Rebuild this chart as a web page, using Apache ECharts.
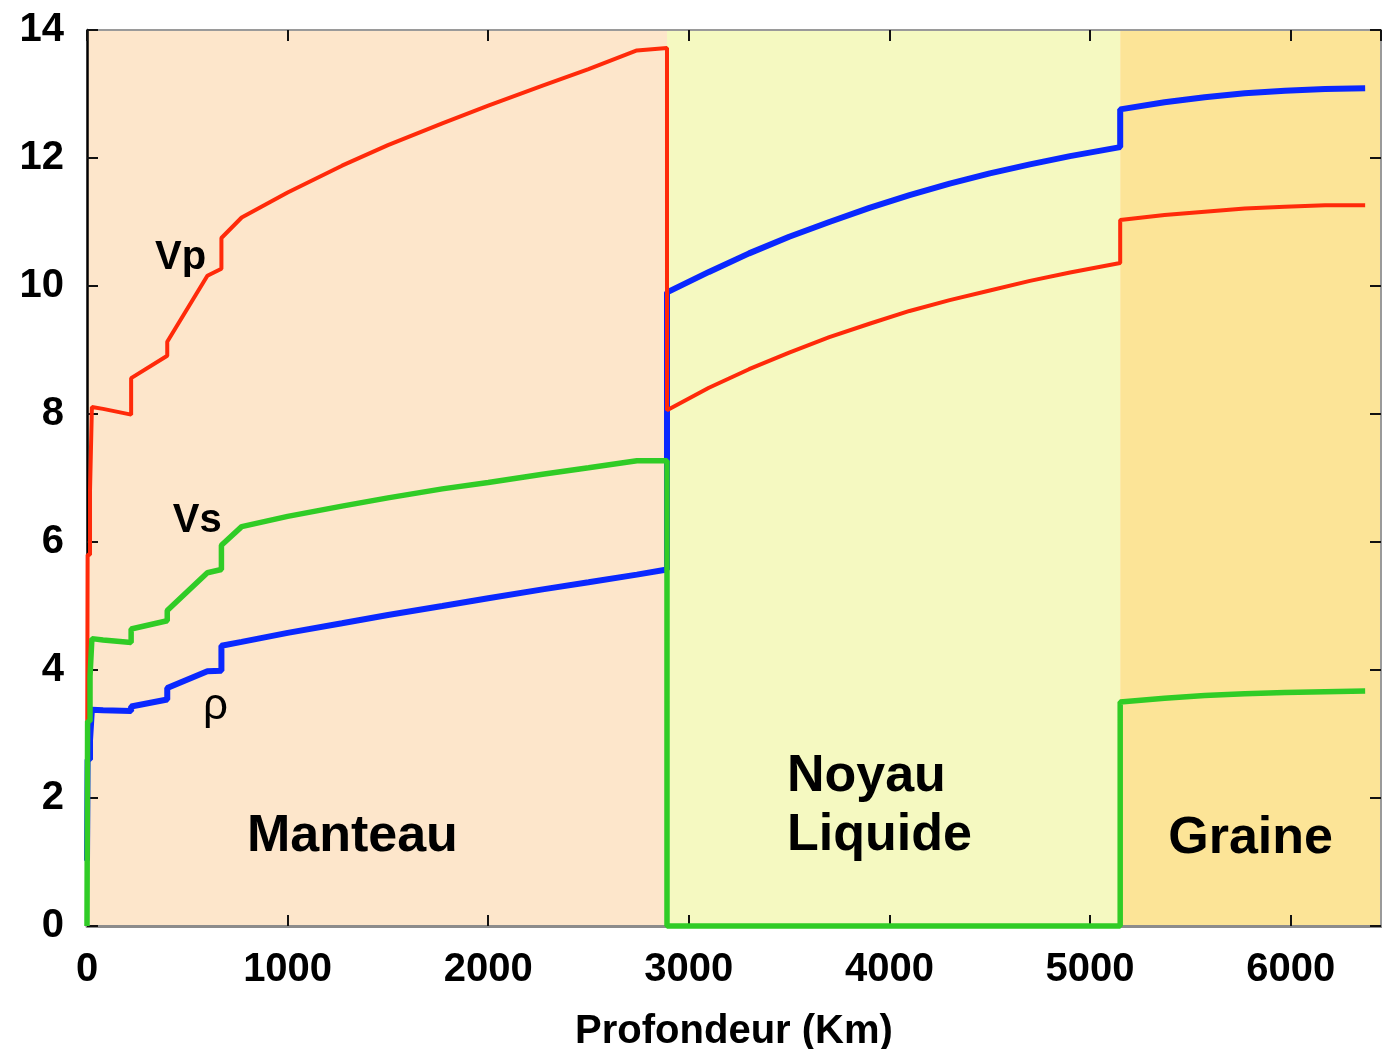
<!DOCTYPE html>
<html>
<head>
<meta charset="utf-8">
<script src="https://cdn.jsdelivr.net/npm/echarts@6/dist/echarts.min.js"></script>
<style>
  html, body { margin: 0; padding: 0; background: #ffffff; }
  #chart { width: 1382px; height: 1049px; }
</style>
</head>
<body>
<div id="chart"></div>
<script>
// Depth (km) of each sample; repeated depths mark the discontinuities.
const depthKm = [0, 3, 3, 15, 15, 24.4, 24.4, 80, 220, 220,
  400, 400, 600, 670, 670, 771, 1000, 1271, 1500, 1771,
  2000, 2271, 2500, 2741, 2891, 2891, 3100, 3300, 3500, 3700,
  3900, 4100, 4300, 4500, 4700, 4900, 5150, 5150, 5371, 5571,
  5771, 5971, 6171, 6371];

// P-wave velocity (km/s)
const vp = [1.45, 1.45, 5.8, 5.8, 6.8, 6.8, 8.11, 8.08, 7.99, 8.56,
  8.91, 9.13, 10.16, 10.27, 10.75, 11.07, 11.46, 11.88, 12.20, 12.54,
  12.82, 13.13, 13.39, 13.68, 13.72, 8.06, 8.41, 8.70, 8.96, 9.20,
  9.41, 9.61, 9.78, 9.93, 10.08, 10.21, 10.36, 11.03, 11.11, 11.16,
  11.21, 11.24, 11.26, 11.26];

// S-wave velocity (km/s)
const vs = [0, 0, 3.2, 3.2, 3.9, 3.9, 4.49, 4.47, 4.43, 4.64,
  4.77, 4.93, 5.52, 5.57, 5.95, 6.24, 6.40, 6.56, 6.69, 6.83,
  6.93, 7.06, 7.16, 7.27, 7.27, 0, 0, 0, 0, 0,
  0, 0, 0, 0, 0, 0, 0, 3.50, 3.56, 3.60,
  3.63, 3.65, 3.66, 3.67];

// Density (g/cm3)
const rho = [1.02, 1.02, 2.6, 2.6, 2.9, 2.9, 3.38, 3.37, 3.36, 3.43,
  3.54, 3.72, 3.98, 3.99, 4.38, 4.44, 4.58, 4.73, 4.86, 5.00,
  5.12, 5.26, 5.37, 5.49, 5.57, 9.90, 10.22, 10.51, 10.77, 11.00,
  11.22, 11.42, 11.60, 11.76, 11.90, 12.03, 12.17, 12.76, 12.87, 12.95,
  13.01, 13.05, 13.08, 13.09];

// Earth layers: boundaries (km) and names
const zoneEdges = [0, 2891, 5150, 6450];
const zoneNames = ['Manteau', 'Noyau\nLiquide', 'Graine'];
const zoneNameAt = [[1323, 1.40], [3489, 1.88], [5800, 1.37]];

// Curve names written next to each curve
const curveNames = ['Vp', 'Vs', 'ρ'];
const curveNameAt = [[339, 10.44], [428, 6.33], [578, 3.42]];

// Axis ticks
const depthTicks = { min: 0, max: 6450, interval: 1000 };
const valueTicks = { min: 0, max: 14, interval: 2 };
const xTitle = 'Profondeur (Km)';

const FONT = '"Liberation Sans", Arial, Helvetica, sans-serif';
const zoneColors = ['#fde6cb', '#f5f9c1', '#fce497'];
const zoneAlign = ['center', 'left', 'center'];

const pairs = vals => depthKm.map((d, i) => [d, vals[i]]);

const chart = echarts.init(document.getElementById('chart'), null, { renderer: 'canvas' });

const bands = zoneColors.map((c, i) => [
  { xAxis: zoneEdges[i], itemStyle: { color: c } },
  { xAxis: zoneEdges[i + 1] }
]);

const annotations = [];
curveNames.forEach((t, i) => annotations.push({
  value: [curveNameAt[i][0], curveNameAt[i][1], t],
  label: {
    align: 'left',
    fontSize: t === 'ρ' ? 44 : 40,
    fontWeight: t === 'ρ' ? 'normal' : 'bold'
  }
}));
zoneNames.forEach((t, i) => annotations.push({
  value: [zoneNameAt[i][0], zoneNameAt[i][1], t],
  label: { align: zoneAlign[i], fontSize: 52, fontWeight: 'bold', lineHeight: 59 }
}));

const axisBase = {
  type: 'value',
  splitLine: { show: false },
  axisTick: { show: true, inside: true, length: 11, lineStyle: { color: '#111', width: 2 } }
};

chart.setOption({
  animation: false,
  backgroundColor: '#ffffff',
  grid: {
    left: 87, right: 1, top: 30, bottom: 123,
    containLabel: false, outerBoundsMode: 'none'
  },
  xAxis: [
    Object.assign({}, axisBase, depthTicks, {
      position: 'bottom',
      name: xTitle,
      nameLocation: 'middle',
      nameGap: 86,
      nameTextStyle: { fontFamily: FONT, fontSize: 40, fontWeight: 'bold', color: '#000' },
      axisLine: { show: true, onZero: false, lineStyle: { color: '#8c8c8c', width: 3 } },
      axisLabel: {
        show: true, margin: 24, showMaxLabel: false,
        fontFamily: FONT, fontSize: 40, fontWeight: 'bold', color: '#000',
        formatter: v => String(v)
      }
    }),
    Object.assign({}, axisBase, depthTicks, {
      position: 'top',
      axisLine: { show: true, onZero: false, lineStyle: { color: '#9a9a9a', width: 2 } },
      axisLabel: { show: false }
    })
  ],
  yAxis: [
    Object.assign({}, axisBase, valueTicks, {
      position: 'left',
      axisLine: { show: true, onZero: false, lineStyle: { color: '#000', width: 2.5 } },
      axisLabel: {
        show: true, margin: 23,
        fontFamily: FONT, fontSize: 40, fontWeight: 'bold', color: '#000',
        formatter: v => String(v)
      }
    }),
    Object.assign({}, axisBase, valueTicks, {
      position: 'right',
      axisLine: { show: true, onZero: false, lineStyle: { color: '#9a9a9a', width: 2 } },
      axisLabel: { show: false }
    })
  ],
  series: [
    {
      name: 'ρ',
      type: 'line',
      data: pairs(rho),
      showSymbol: false,
      clip: false,
      z: 2,
      lineStyle: { color: '#0a28ff', width: 6 },
      markArea: { silent: true, z: 0, data: bands }
    },
    {
      name: 'Vp',
      type: 'line',
      data: pairs(vp),
      showSymbol: false,
      clip: false,
      z: 3,
      lineStyle: { color: '#ff2a0a', width: 4 }
    },
    {
      name: 'Vs',
      type: 'line',
      data: pairs(vs),
      showSymbol: false,
      clip: false,
      z: 4,
      lineStyle: { color: '#30cc26', width: 5.5 }
    },
    {
      name: 'labels',
      type: 'scatter',
      symbolSize: 0,
      silent: true,
      z: 5,
      itemStyle: { opacity: 1 },
      data: annotations,
      label: {
        show: true,
        position: 'inside',
        verticalAlign: 'middle',
        fontFamily: FONT,
        color: '#000',
        opacity: 1,
        textBorderWidth: 0,
        textShadowBlur: 0,
        formatter: p => p.value[2]
      }
    }
  ]
});
</script>
</body>
</html>
